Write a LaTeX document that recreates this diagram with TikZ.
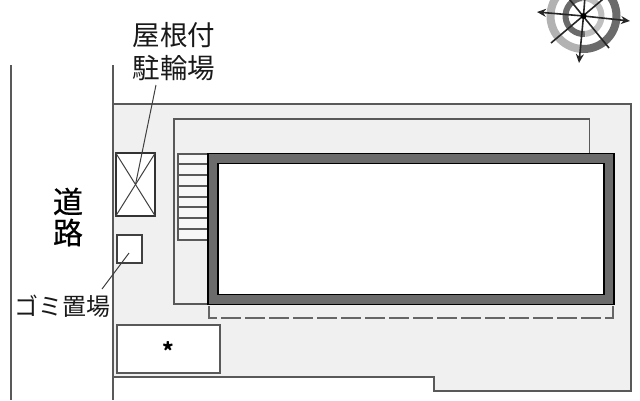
\documentclass[tikz,border=0pt]{standalone}
\usepackage{fontspec}
\setmainfont{Noto Sans CJK JP}
\newfontfamily\heavyroad[FakeBold=0.6]{Noto Sans CJK JP}
\tikzset{
  outline/.style={draw=black!65,line width=1.2pt},
  lot/.style={outline,fill=white},
  leader/.style={draw=black!75,line width=1pt},
  pointer/.style={draw=black!85,line width=1.6pt},
  windarrow/.style={pointer,-{Stealth[length=9pt,width=8pt]}},
  bigtext/.style={font=\fontsize{27.5}{33}\selectfont,inner sep=0pt,text=black!90},
  smalltext/.style={font=\fontsize{24}{25}\selectfont,inner sep=0pt,text=black!90},
}
\usetikzlibrary{arrows.meta}
\begin{document}
\begin{tikzpicture}[x=1pt,y=-1pt]
\useasboundingbox (0,0) rectangle (640,400);
\clip (0,0) rectangle (640,400);
% road
\draw[outline] (11,65) -- (11,400);
% site
\fill[black!6] (113,104) -- (631,104) -- (631,391) -- (434,391) -- (434,377) -- (113,377) -- cycle;
\draw[outline] (113,65) -- (113,400);
\draw[outline] (113,104) -- (631,104) -- (631,391) -- (434,391) -- (434,377) -- (113,377);
% inner outline
\draw[outline] (208,304) -- (174,304) -- (174,119) -- (589.5,119) -- (589.5,153);
% stairs
\coordinate (stairTL) at (178,154);
\coordinate (stairBR) at (208,240);
\draw[outline,fill=black!3] (stairTL) rectangle (stairBR);
\foreach \yy in {164,175,186,197,207,218,229}
  \draw[outline] (178,\yy) -- (208,\yy);
% building
\node[draw=black,line width=1.6pt,fill=black!58,minimum width=406pt,minimum height=151pt,inner sep=0pt] (bldg) at (411,229) {};
\node[draw=black,line width=1.8pt,fill=white,minimum width=386pt,minimum height=131pt,inner sep=0pt] (room) at (411,229) {};
% dashed
\draw[draw=black!60,line width=1.2pt,dash pattern=on 20pt off 4pt] (209,306) -- (209,318) -- (613,318) -- (613,306);
% bike shelter
\node[draw=black!80,line width=1.2pt,fill=white,minimum width=39pt,minimum height=63pt,inner sep=0pt] (bike) at (135.5,184.5) {};
\draw[leader] (bike.north west) -- (bike.south east);
\draw[leader] (bike.north east) -- (bike.south west);
% trash
\node[lot,draw=black!75,minimum width=25pt,minimum height=28pt,inner sep=0pt] (trash) at (129.5,249) {};
% parking
\node[lot,minimum width=103pt,minimum height=48pt,inner sep=0pt] (park) at (168.5,349) {};
\node[font=\fontsize{22}{22}\selectfont\bfseries,inner sep=0pt,text=black] (star) at (168,351) {*};
% labels
\node[bigtext,align=center] (lblbike) at (174,52) {屋根付\\駐輪場};
\node[align=center,inner sep=0pt,font=\fontsize{30}{31}\selectfont\heavyroad,text=black] (road) at (68,217) {道\\路};
\node[smalltext] (lbltrash) at (62.5,306) {ゴミ置場};
\coordinate (bikeEnd) at (156,85);
\coordinate (trashEnd) at (102,289);
\coordinate (trashIn) at (129,253);
\draw[leader] (bikeEnd) -- (bike.center);
\draw[leader] (trashEnd) -- (trashIn);
% compass
\coordinate (cc) at (583.5,16);
\draw[black!30,line width=8pt] (cc) ++(95:33) arc[start angle=95,end angle=275,radius=33];
\draw[black!58,line width=8pt] (cc) ++(-85:33) arc[start angle=-85,end angle=95,radius=33];
\draw[black!58,line width=6pt] (cc) ++(85:18) arc[start angle=85,end angle=265,radius=18];
\draw[black!25,line width=6pt] (cc) ++(-95:18) arc[start angle=-95,end angle=85,radius=18];
\coordinate (W) at (537,12);
\coordinate (E) at (630,21);
\coordinate (S) at (579,63);
\coordinate (N) at (587,-30);
\draw[windarrow] (cc) -- (W);
\draw[windarrow] (cc) -- (E);
\draw[windarrow] (cc) -- (S);
\draw[pointer] (cc) -- (N);
\draw[pointer] (551,43) -- (615,-11);
\draw[pointer] (609,48) -- (557,-16);
\fill[black] (cc) circle (3pt);
\end{tikzpicture}
\end{document}
